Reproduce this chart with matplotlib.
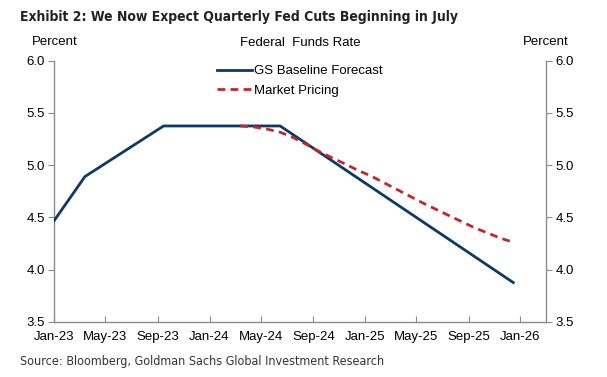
import numpy as np
import pandas as pd
import matplotlib
matplotlib.use("Agg")
import matplotlib.pyplot as plt
import matplotlib.dates as mdates

# Federal funds rate, GS baseline forecast (percent)
gs_dates = ["2023-01-01", "2023-03-14", "2023-09-15", "2024-06-15", "2025-12-15"]
gs_values = [4.47, 4.89, 5.375, 5.375, 3.875]

# Market pricing (percent)
mkt_dates = ["2024-03-13", "2024-04-15", "2024-05-15", "2024-06-15", "2024-07-15",
             "2024-08-15", "2024-09-15", "2024-10-15", "2024-11-15", "2024-12-15",
             "2025-01-15", "2025-03-15", "2025-05-15", "2025-07-15", "2025-09-15",
             "2025-11-15", "2025-12-12"]
mkt_values = [5.375, 5.365, 5.345, 5.315, 5.265,
              5.20, 5.13, 5.07, 5.01, 4.95,
              4.895, 4.77, 4.64, 4.52, 4.40,
              4.30, 4.265]

tick_dates = pd.date_range("2023-01-01", "2026-01-01", freq="4MS")

BLUE = "#0c3966"
RED = "#c1272d"
GREY = "#8c8c8c"

plt.rcParams["font.family"] = ["Liberation Sans", "DejaVu Sans"]

W, H = 607, 377
fig = plt.figure(figsize=(W / 100, H / 100), dpi=100)
left, right, top, bottom = 54.3, 546, 60.7, 321.7
ax = fig.add_axes([left / W, 1 - bottom / H, (right - left) / W, (bottom - top) / H])

ax.plot(pd.to_datetime(gs_dates), gs_values, color=BLUE, lw=2.0,
        solid_joinstyle="miter", label="GS Baseline Forecast", zorder=3)
ax.plot(pd.to_datetime(mkt_dates), mkt_values, color=RED, lw=2.0,
        linestyle=(0, (2.8, 1.9)), label="Market Pricing", zorder=4)

ax.set_xlim(pd.Timestamp("2023-01-01"), pd.Timestamp("2026-03-02"))
ax.set_ylim(3.5, 6.0)

ax.set_xticks(tick_dates)
ax.xaxis.set_major_formatter(mdates.DateFormatter("%b-%y"))
ax.set_yticks(np.arange(3.5, 6.01, 0.5))
ax.yaxis.set_major_formatter(matplotlib.ticker.FormatStrFormatter("%.1f"))

for s in ["left", "right", "bottom"]:
    ax.spines[s].set_color(GREY)
    ax.spines[s].set_linewidth(1.0)
ax.spines["top"].set_visible(False)

ax.tick_params(axis="x", direction="in", length=4, color=GREY, labelsize=9.5,
               pad=7)
ax.tick_params(axis="y", direction="out", length=4, color=GREY, labelsize=9.5,
               pad=3, right=True, labelright=True)

fig.text(20 / W, 1 - 17 / H, "Exhibit 2: We Now Expect Quarterly Fed Cuts Beginning in July",
         fontsize=10, fontweight="bold", family="DejaVu Sans", fontstretch="condensed",
         va="center", ha="left", color="#222222")
fig.text(left / W, 1 - 42 / H, "Percent", fontsize=9.5, ha="center", va="center")
fig.text(right / W, 1 - 42 / H, "Percent", fontsize=9.5, ha="center", va="center")
fig.text((left + right) / 2 / W, 1 - 42.5 / H, "Federal  Funds Rate", fontsize=9.5,
         ha="center", va="center")
fig.text(20 / W, 1 - 361 / H,
         "Source: Bloomberg, Goldman Sachs Global Investment Research",
         fontsize=9, family="DejaVu Sans", fontstretch="condensed",
         ha="left", va="center", color="#333333")

ax.legend(loc="upper left", bbox_to_anchor=(217 / W, 1 - 65 / H),
          bbox_transform=fig.transFigure, frameon=False, fontsize=9.5,
          handlelength=2.65, handletextpad=0.15, borderpad=0, borderaxespad=0,
          labelspacing=0.55)

fig.savefig("out.png", dpi=100)
